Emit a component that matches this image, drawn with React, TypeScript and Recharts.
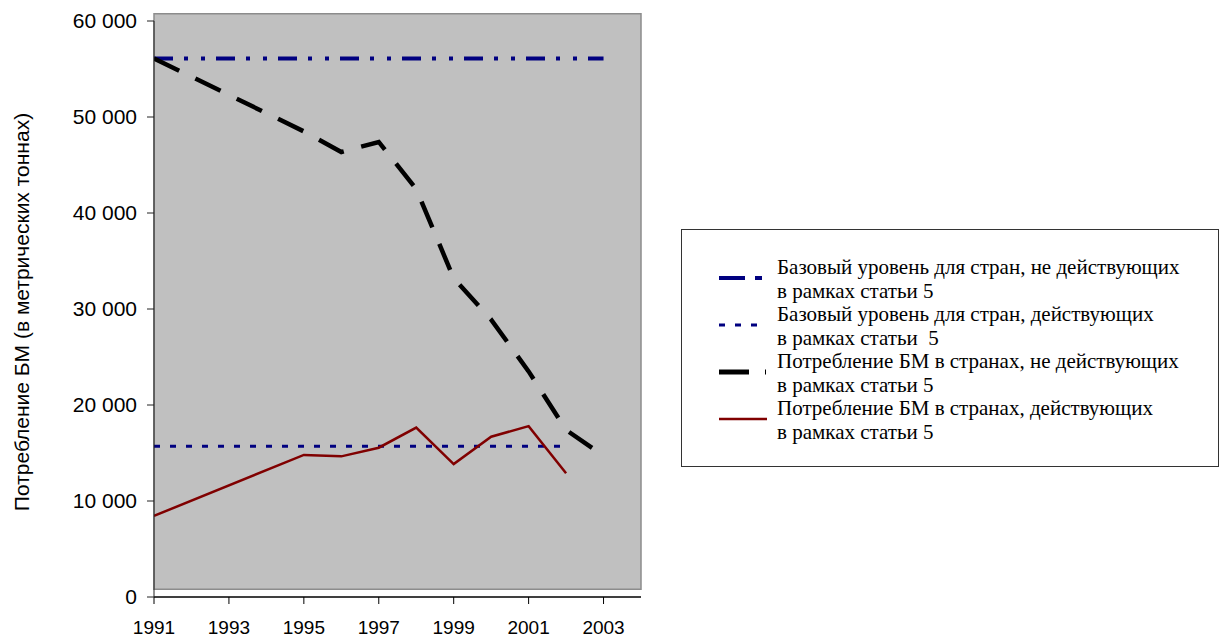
import { LineChart, Line, XAxis, YAxis, CartesianGrid, ReferenceArea } from 'recharts'

// годы и значения (метрические тонны)
const years = [1991, 1992, 1993, 1994, 1995, 1996, 1997, 1998, 1999, 2000, 2001, 2002, 2003]
const nonA5Baseline = [56100, 56100, 56100, 56100, 56100, 56100, 56100, 56100, 56100, 56100, 56100, 56100, 56100]
const a5Baseline = [15700, 15700, 15700, 15700, 15700, 15700, 15700, 15700, 15700, 15700, 15700, 15700, null]
const nonA5Consumption = [56100, null, null, null, 48500, 46350, 47400, 42500, 33200, 28900, 23500, 17400, 14700]
const a5Consumption = [8450, null, null, null, 14800, 14650, 15550, 17650, 13850, 16700, 17800, 12900, null]

const xTicks = [1991, 1993, 1995, 1997, 1999, 2001, 2003]
const yTicks = [0, 10000, 20000, 30000, 40000, 50000, 60000]

const legendItems = [
  { lines: ['Базовый уровень для стран, не действующих', 'в рамках статьи 5'], kind: 'dashdot' },
  { lines: ['Базовый уровень для стран, действующих', 'в рамках статьи  5'], kind: 'dotted' },
  { lines: ['Потребление БМ в странах, не действующих', 'в рамках статьи 5'], kind: 'dashed' },
  { lines: ['Потребление БМ в странах, действующих', 'в рамках статьи 5'], kind: 'solid' },
]

const data = years.map((year, i) => ({
  year,
  nonA5Baseline: nonA5Baseline[i],
  a5Baseline: a5Baseline[i],
  nonA5Consumption: nonA5Consumption[i],
  a5Consumption: a5Consumption[i],
}))

const formatThousands = (v: number) => String(v).replace(/\B(?=(\d{3})+(?!\d))/g, ' ')

const AXIS_FONT = '"Liberation Sans", Arial, sans-serif'
const SERIF_FONT = '"Liberation Serif", "Times New Roman", serif'

const YLabel = (props: any) => {
  const { viewBox } = props
  const cy = viewBox.y + viewBox.height / 2 + 3
  return (
    <text
      x={21}
      y={cy}
      transform={`rotate(-90, 21, ${cy})`}
      textAnchor="middle"
      dominantBaseline="central"
      fill="#000"
      fontSize={21}
      fontFamily={AXIS_FONT}
    >
      Потребление БМ (в метрических тоннах)
    </text>
  )
}

const LegendSample = ({ kind }: { kind: string }) => {
  if (kind === 'dashdot') {
    return (
      <svg width={50} height={10}>
        <line x1={0} y1={5} x2={26} y2={5} stroke="#000080" strokeWidth={4} />
        <line x1={36} y1={5} x2={43} y2={5} stroke="#000080" strokeWidth={4} />
      </svg>
    )
  }
  if (kind === 'dotted') {
    return (
      <svg width={50} height={10}>
        <line x1={0} y1={5} x2={44} y2={5} stroke="#000080" strokeWidth={3} strokeDasharray="6 10" />
      </svg>
    )
  }
  if (kind === 'dashed') {
    return (
      <svg width={50} height={10}>
        <line x1={0} y1={5} x2={30} y2={5} stroke="#000" strokeWidth={5} />
        <line x1={46} y1={5} x2={47} y2={5} stroke="#000" strokeWidth={5} />
      </svg>
    )
  }
  return (
    <svg width={50} height={10}>
      <line x1={0} y1={5} x2={48} y2={5} stroke="#800000" strokeWidth={2.5} />
    </svg>
  )
}

export default function App() {
  return (
    <div style={{ position: 'absolute', left: 0, top: 0, width: 1220, height: 638, background: '#fff' }}>
      <LineChart
        width={1220}
        height={638}
        data={data}
        margin={{ top: 21, right: 579, left: 0, bottom: 0 }}
      >
        <ReferenceArea
          x1={1991}
          x2={2004}
          y1={800}
          y2={60750}
          ifOverflow="visible"
          fill="#C0C0C0"
          fillOpacity={1}
          stroke="#8C8C8C"
          strokeWidth={1.5}
        />
        <CartesianGrid vertical={false} stroke="#000" />
        <XAxis
          dataKey="year"
          type="number"
          domain={[1991, 2004]}
          ticks={xTicks}
          allowDataOverflow
          height={41}
          stroke="#000"
          tickSize={7}
          tickMargin={17}
          tick={{ fill: '#000', fontSize: 19, fontFamily: AXIS_FONT }}
        />
        <YAxis
          type="number"
          domain={[0, 60000]}
          ticks={yTicks}
          width={154}
          stroke="#222"
          tickSize={7}
          tickMargin={10}
          tickFormatter={formatThousands}
          tick={{ fill: '#000', fontSize: 21, fontFamily: AXIS_FONT }}
          label={<YLabel />}
        />
        <Line
          dataKey="a5Baseline"
          stroke="#000080"
          strokeWidth={3}
          strokeDasharray="6 10"
          dot={false}
          activeDot={false}
          isAnimationActive={false}
        />
        <Line
          dataKey="nonA5Baseline"
          stroke="#000080"
          strokeWidth={4}
          strokeDasharray="19 11 4 13 4 11"
          dot={false}
          activeDot={false}
          isAnimationActive={false}
        />
        <Line
          dataKey="a5Consumption"
          type="linear"
          stroke="#800000"
          strokeWidth={2.5}
          connectNulls
          dot={false}
          activeDot={false}
          isAnimationActive={false}
        />
        <Line
          dataKey="nonA5Consumption"
          type="linear"
          stroke="#000"
          strokeWidth={4.5}
          strokeDasharray="28 18"
          connectNulls
          dot={false}
          activeDot={false}
          isAnimationActive={false}
        />
      </LineChart>

      {/* легенда справа */}
      <div
        style={{
          position: 'absolute',
          left: 681,
          top: 229,
          width: 536,
          height: 236,
          border: '1px solid #333',
          boxSizing: 'content-box',
          fontFamily: SERIF_FONT,
          fontSize: 21,
          color: '#000',
        }}
      >
        <div style={{ position: 'absolute', left: 37, top: 26 }}>
          {legendItems.map((item, i) => (
            <div key={i} style={{ display: 'flex', alignItems: 'flex-start' }}>
              <div style={{ width: 58, paddingTop: 8 }}>
                <LegendSample kind={item.kind} />
              </div>
              <div style={{ lineHeight: '23.5px', whiteSpace: 'pre' }}>
                {item.lines.map((l, j) => (
                  <div key={j}>{l}</div>
                ))}
              </div>
            </div>
          ))}
        </div>
      </div>
    </div>
  )
}
